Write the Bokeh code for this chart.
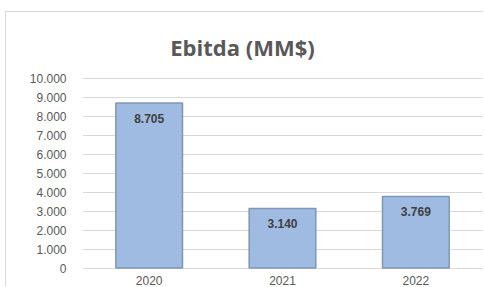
from bokeh.plotting import figure
from bokeh.models import ColumnDataSource, LabelSet, Label, FactorRange, Range1d, FixedTicker, CustomJSTickFormatter
from bokeh.core.properties import value
from bokeh.embed import file_html
from bokeh.resources import INLINE

years = ["2020", "2021", "2022"]
ebitda = [8705, 3140, 3769]
value_labels = ["8.705", "3.140", "3.769"]
y_ticks = [0, 1000, 2000, 3000, 4000, 5000, 6000, 7000, 8000, 9000, 10000]
title_text = "Ebitda (MM$)"

# frame covers the whole canvas height; data range chosen so 0..10000 sits where the reference plot area is
canvas_h = 275
top_px, zero_px = 66, 255.5          # canvas pixel rows of 10000 and 0
ppu = (zero_px - top_px) / 10000.0
y_end = 10000 + top_px / ppu
y_start = -(canvas_h - zero_px) / ppu

src = ColumnDataSource(dict(x=years, top=ebitda, lab=value_labels, zero=[0] * len(years)))

p = figure(width=478, height=canvas_h, x_range=FactorRange(*years), y_range=Range1d(y_start, y_end),
           output_backend="svg", toolbar_location=None,
           min_border_left=76, min_border_right=2, min_border_top=0, min_border_bottom=0,
           background_fill_color="white", border_fill_color="white")
p.styles = {"margin-left": "5px", "margin-top": "11px",
            "border-left": "1px solid #d9d9d9", "border-top": "1px solid #d9d9d9"}
p.outline_line_color = None

p.vbar(x="x", top="top", width=0.5, source=src, fill_color="#9fbbe2", line_color="#8196b3", line_width=1.5)

p.xaxis.visible = False
p.xgrid.grid_line_color = None
p.ygrid.ticker = FixedTicker(ticks=y_ticks)
p.ygrid.grid_line_color = "#d9d9d9"
p.ygrid.grid_line_width = 1

yax = p.yaxis[0]
yax.ticker = FixedTicker(ticks=y_ticks)
yax.formatter = CustomJSTickFormatter(code="return tick == 0 ? '0' : (tick/1000).toFixed(3);")
yax.axis_line_color = None
yax.major_tick_line_color = None
yax.minor_tick_line_color = None
yax.major_label_standoff = 10
yax.major_label_text_font = "Liberation Sans"
yax.major_label_text_font_size = "12px"
yax.major_label_text_color = "#595959"

# value labels inside bar tops
p.add_layout(LabelSet(x="x", y="top", text="lab", source=src, y_offset=-15,
                      text_align="center", text_baseline="middle",
                      text_font=value("Liberation Sans"), text_font_style="bold",
                      text_font_size="12px", text_color="#404040"))
# category labels under the baseline
p.add_layout(LabelSet(x="x", y="zero", text="x", source=src, y_offset=-12,
                      text_align="center", text_baseline="middle",
                      text_font=value("Liberation Sans"),
                      text_font_size="12px", text_color="#595959"))

# title
title_baseline_px = 34.7
p.add_layout(Label(x=1.2, y=y_end - title_baseline_px / ppu, text=title_text,
                   text_align="center", text_baseline="alphabetic",
                   text_font="Open Sans", text_font_style="bold", text_font_size="22px",
                   text_color="#595959"))

open("out.html", "w").write(file_html(p, INLINE))
